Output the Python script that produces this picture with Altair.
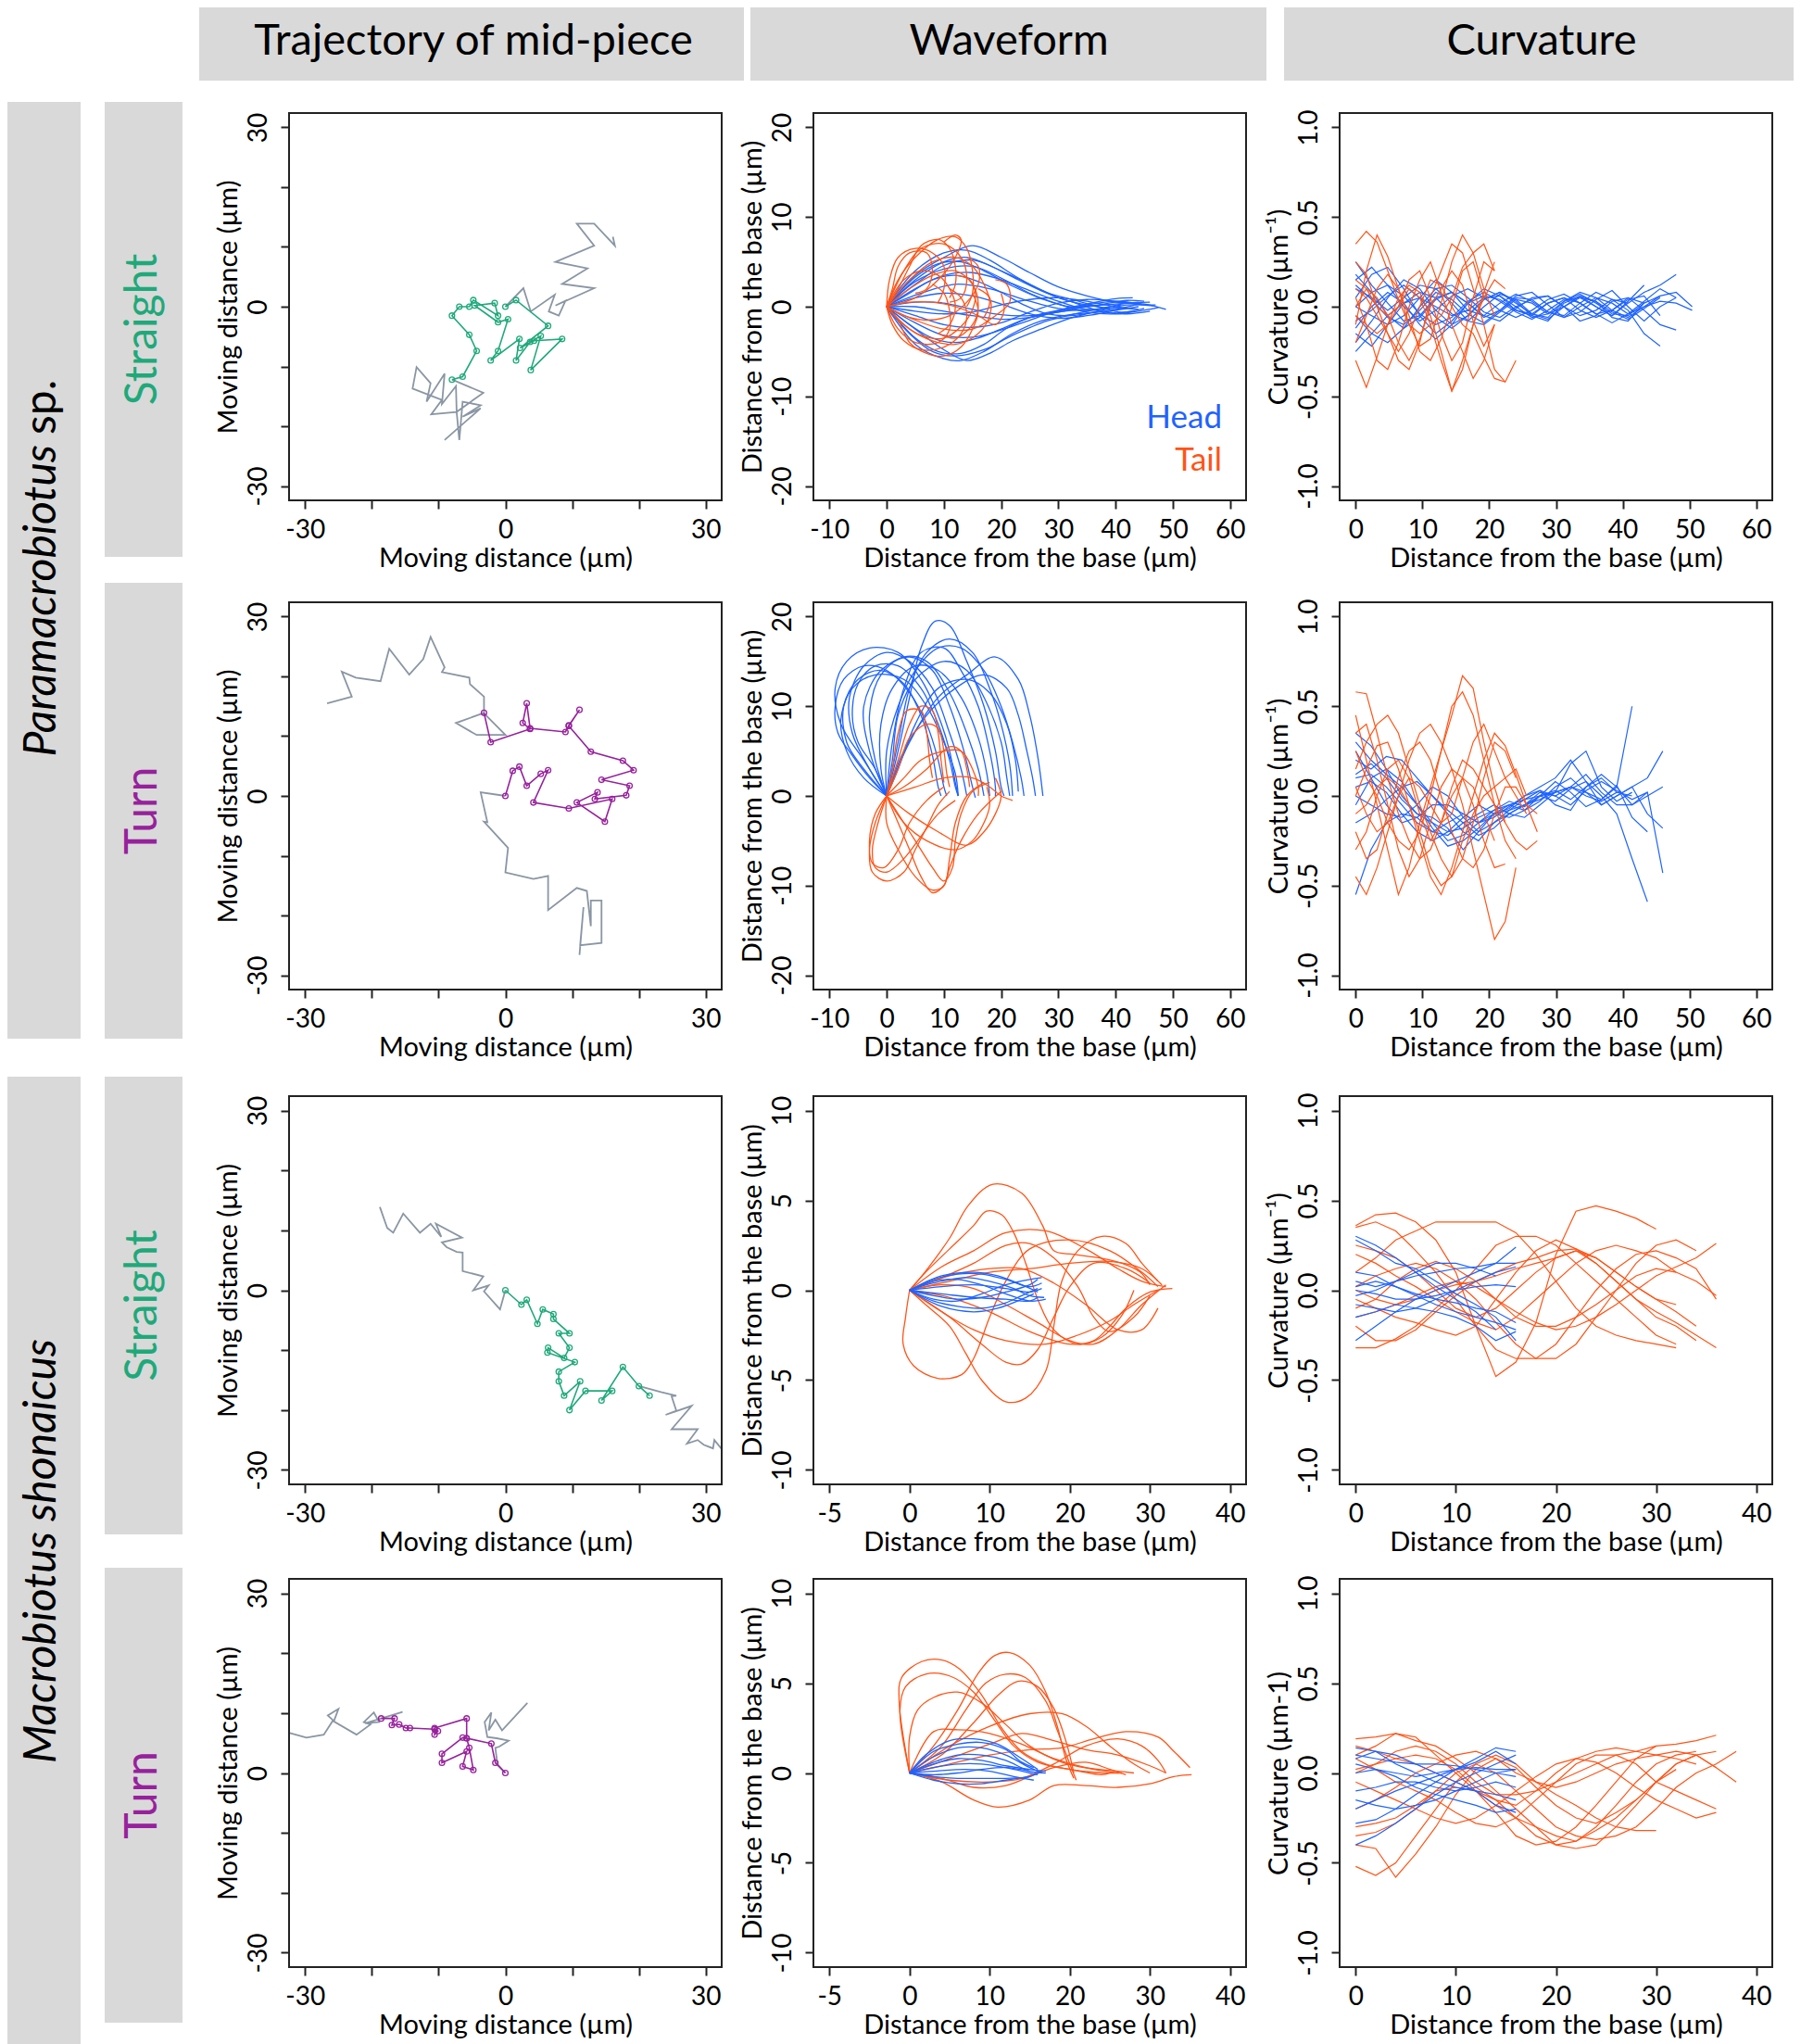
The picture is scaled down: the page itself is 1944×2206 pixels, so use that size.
import altair as alt
import pandas as pd

FONT = "Lato"
BLUE = "#1f63ff"
ORANGE = "#ff5417"
GREEN = "#1fa97a"
PURPLE = "#97219c"
GRAY = "#8a96a4"
STRIP = "#d9d9d9"
FRAME = "#222222"

W, H = 1928, 2198
COLS = [(304, 771), (870, 1337), (1438, 1905)]
ROWS = [(114, 532), (642, 1060), (1175, 1594), (1696, 2115)]

# ---------------- trajectories of the mid-piece (x, y in um) ----------------
TRAJ1_GRAY_BEFORE = [(-9.1,-22.3),(-3.7,-17.0),(-6.4,-18.4),(-3.7,-16.5),(-6.4,-15.9),(-6.9,-22.3),(-7.3,-17.6),(-7.4,-13.3),(-9.5,-16.3),(-9.1,-11.2),(-11.8,-15.9),(-11.2,-12.8),(-13.3,-10.1),(-13.9,-13.7),(-9.5,-15.6),(-11.1,-18.0),(-7.3,-17.6),(-3.3,-14.4),(-8.0,-12.2)]
TRAJ1_TRACK = [(-8.0,-12.2),(-6.4,-11.7),(-4.3,-7.4),(-5.4,-4.7),(-8.0,-1.5),(-6.9,0.0),(-5.4,0.0),(-4.8,1.1),(-1.1,-1.5),(-1.6,0.6),(-4.6,0.2),(-1.1,-2.6),(0.4,-2.1),(-1.1,-7.4),(-2.2,-9.0),(2.1,-5.4),(1.6,-9.0),(3.7,-5.9),(5.3,-4.9),(3.8,-10.6),(8.5,-5.4),(4.3,-5.7),(2.2,-6.9),(6.4,-3.2),(1.6,1.1),(0.0,0.0)]
TRAJ1_GRAY_AFTER = [(0.0,0.0),(2.7,3.1),(3.8,-0.8),(7.4,2.0),(6.5,-0.8),(8.0,-1.5),(9.0,1.0),(7.5,0.2),(13.3,3.1),(8.5,3.8),(12.3,6.4),(7.5,7.5),(13.3,10.2),(10.7,13.9),(13.3,13.9),(16.4,10.2),(16.1,11.7)]

TRAJ2_GRAY_BEFORE = [(-26.7,15.5),(-23.0,16.6),(-24.5,20.8),(-22.4,19.8),(-18.7,19.2),(-17.4,24.6),(-14.4,20.3),(-12.3,22.9),(-11.2,26.6),(-9.1,21.5),(-9.5,20.7),(-5.4,19.8),(-5.3,18.7),(-3.2,16.6),(-3.2,13.8),(0.0,10.2),(-4.3,10.2),(-7.4,12.2),(-3.2,13.9)]
TRAJ2_TRACK = [(-3.2,13.9),(-2.2,9.0),(3.7,11.2),(2.6,12.2),(3.2,15.5),(3.7,11.3),(9.0,10.7),(9.5,11.8),(11.1,14.4),(9.5,11.7),(12.8,7.4),(17.6,5.9),(19.2,4.3),(14.4,2.7),(18.6,1.7),(18.1,0.1),(13.4,-0.5),(13.8,0.6),(10.7,-1.1),(14.9,-4.3),(16.0,-0.5),(9.5,-2.1),(4.2,-1.1),(6.4,4.3),(5.3,3.7),(3.2,1.7),(2.1,4.9),(1.1,4.2),(0.0,0.0)]
TRAJ2_GRAY_AFTER = [(0.0,0.0),(-3.7,0.6),(-2.7,-4.4),(-3.2,-4.3),(0.4,-8.7),(0.0,-12.8),(4.2,-13.9),(6.4,-13.4),(6.4,-19.1),(10.7,-15.4),(12.2,-15.9),(12.8,-21.8),(12.8,-17.5),(14.4,-17.5),(14.4,-24.6),(11.2,-25.0),(11.7,-18.6),(11.1,-26.6)]

TRAJ3_GRAY_BEFORE = [(-18.8,13.9),(-17.7,10.4),(-16.8,9.6),(-15.3,12.8),(-12.8,9.6),(-11.2,11.1),(-9.6,8.9),(-10.4,11.1),(-6.5,8.8),(-9.5,8.0),(-8.8,7.2),(-7.3,6.4),(-6.4,6.3),(-6.4,3.2),(-3.3,2.3),(-4.8,0.0),(-2.5,0.8),(-3.2,-0.2),(-0.8,-3.2),(0.0,0.0)]
TRAJ3_TRACK = [(0.0,0.0),(2.4,-2.4),(3.2,-1.6),(4.8,-5.6),(5.6,-3.2),(7.2,-4.0),(7.2,-4.8),(9.6,-7.2),(8.0,-7.2),(9.6,-9.6),(8.8,-11.3),(6.4,-9.6),(6.3,-10.4),(10.4,-12.0),(8.0,-13.6),(8.0,-15.2),(8.8,-17.6),(11.2,-15.2),(9.6,-20.0),(12.0,-16.8),(16.0,-16.8),(14.4,-18.4),(17.6,-12.8),(20.0,-16.0),(21.6,-17.6)]
TRAJ3_GRAY_AFTER = [(20.0,-16.0),(23.3,-17.0),(25.6,-17.6),(24.9,-17.7),(25.6,-20.1),(24.0,-20.8),(27.9,-19.3),(24.9,-23.2),(28.8,-23.2),(27.2,-25.6),(28.8,-25.0),(29.7,-25.8),(31.1,-26.4),(31.3,-25.0),(32.4,-26.5)]

TRAJ4_GRAY_BEFORE = [(-32.4,6.7),(-29.8,5.9),(-27.2,6.4),(-25.8,8.8),(-26.6,9.6),(-25.0,10.7),(-25.7,8.6),(-22.3,6.4),(-20.2,8.1),(-21.2,8.5),(-19.7,10.1),(-18.9,8.5),(-21.0,8.3),(-15.4,10.2),(-18.6,9.1)]
TRAJ4_TRACK = [(-18.6,9.1),(-16.6,9.1),(-17.0,8.0),(-15.9,8.1),(-14.9,7.5),(-14.3,7.5),(-10.6,7.3),(-10.1,7.0),(-10.6,6.4),(-10.6,7.5),(-5.8,9.1),(-5.8,5.8),(-6.4,5.9),(-9.5,3.2),(-9.5,1.7),(-5.8,3.6),(-6.4,1.1),(-4.8,0.5),(-5.4,4.2),(-5.8,5.8),(-2.1,4.9),(-1.5,1.7),(0.0,0.0)]
TRAJ4_GRAY_AFTER = [(0.0,0.0),(-1.2,1.5),(-1.5,4.2),(-0.9,4.4),(0.5,5.4),(-1.3,5.8),(-2.7,6.0),(-3.1,8.5),(-2.1,10.1),(-2.5,7.1),(-1.5,8.9),(-0.5,7.1),(3.3,11.7)]

# ---------------- waveforms (x, y in um) ----------------
WAVE1_HEAD = [
    [(0,0),(5,3.5),(10,5.5),(15,6.8),(20,5.5),(25,3.8),(30,2.2),(35,1.2),(40,0.5),(45,0.3),(48.8,-0.3)],
    [(0,0),(5,2.5),(10,4.6),(15,5.2),(20,4.0),(25,2.5),(30,1.0),(35,0.2),(40,-0.2),(44,0.3)],
    [(0,0),(5,-2.5),(10,-4.8),(14,-6.0),(18,-5.2),(22,-3.8),(27,-2.5),(32,-1.3),(37,-0.5),(42,0.2),(46.6,0.1)],
    [(0,0),(4,-3.0),(8,-5.0),(12,-5.5),(17,-4.8),(22,-3.2),(28,-1.6),(33,-0.8),(38,-0.1),(41,0.2)],
    [(0,0),(5,1.0),(10,1.5),(15,1.2),(20,0.3),(25,-0.8),(30,-1.3),(35,-1.0),(40,-0.4),(44,0.0)],
    [(0,0),(5,-1.0),(10,-2.0),(15,-2.3),(20,-1.8),(25,-0.6),(30,0.4),(35,0.8),(40,0.6),(45,0.2),(47,0.2)],
    [(0,0),(5,3.0),(10,5.0),(14,5.5),(18,4.6),(23,3.0),(28,1.5),(33,0.4),(38,-0.6),(42,-0.8),(46,-0.5)],
    [(0,0),(4,-2.0),(8,-3.5),(12,-4.0),(16,-3.5),(20,-2.5),(25,-1.2),(30,-0.6),(35,-0.3),(40,-0.7),(43,-0.5)],
    [(0,0),(5,2.0),(10,3.5),(15,3.8),(20,3.0),(25,1.8),(30,0.6),(35,-0.3),(39,-0.2)],
    [(0,0),(5,-3.5),(9,-5.0),(13,-5.2),(17,-4.2),(21,-2.4),(26,-1.0),(31,-0.3),(36,0.1)],
    [(0,0),(6,1.5),(12,2.5),(18,2.0),(24,0.8),(30,-0.2),(36,-0.4),(41,0.3),(46,0.5)],
    [(0,0),(5,0.0),(10,-0.5),(15,-1.0),(20,-1.4),(25,-1.2),(30,-0.6),(35,0.0),(40,0.3),(44,0.5)],
    [(0,0),(5,4.0),(10,6.0),(14,6.3),(18,5.2),(23,3.2),(28,1.6),(33,0.7),(37,0.0),(41,-0.6),(45,-0.2)],
    [(0,0),(4,1.5),(8,3.0),(12,3.5),(16,2.8),(20,1.6),(24,0.2),(28,-0.8),(32,-1.0),(37,-0.5)],
    [(0,0),(5,2.8),(10,4.2),(15,4.5),(20,3.2),(25,1.5),(30,0.3),(35,-0.6),(40,-0.8),(45,-0.4),(47.5,-0.1)],
    [(0,0),(5,-1.8),(10,-3.2),(15,-3.4),(20,-2.6),(25,-1.5),(30,-0.4),(35,0.3),(40,0.9),(43,1.0)],
    [(0,0),(5,0.5),(10,0.4),(15,-0.3),(20,-0.9),(25,-1.0),(30,-0.5),(35,0.2),(40,0.6),(44.5,0.3)],
    [(0,0),(5,-4.2),(10,-5.8),(13,-6.0),(17,-5.0),(22,-3.0),(27,-1.6),(32,-0.9),(37,-0.6),(41,-0.2)],
    [(0,0),(5,3.3),(9,4.8),(13,5.0),(17,4.0),(22,2.3),(27,0.9),(32,0.0),(37,0.2),(42,0.7),(45,0.6)],
    [(0,0),(5,-0.5),(10,-0.8),(15,-0.6),(20,0.2),(25,0.8),(30,1.0),(35,0.6),(40,0.0),(44,-0.3)],
]
WAVE1_TAIL = [
    [(0,0),(0.5,3),(2,5.5),(5,6.5),(8,6),(10,4.5),(10,2),(9,0.5)],
    [(0,0),(2,3),(5,5.5),(9,7.5),(12,7.8),(14,6.5),(15,4),(15,1.5),(14,0)],
    [(0,0),(1,-2),(3,-3.8),(6,-4.8),(10,-4.5),(13,-3),(14,-1),(13,1),(11,2)],
    [(0,0),(4,2),(8,3.5),(12,4),(15,2.5),(16,0),(15,-2),(12,-3.5),(9,-3)],
    [(0,0),(3,-1),(7,-1.5),(11,-1),(14,0.5),(16,2.5),(16,4.5),(14,5.5)],
    [(0,0),(3,4),(6,6.5),(10,7),(13,5.5),(14,3),(13,1),(11,0.5)],
    [(0,0),(5,-1.5),(10,-2.5),(15,-2.5),(19,-1),(21.5,0.5),(21,2.5),(19,3)],
    [(0,0),(2,-2.5),(5,-4),(9,-4),(11,-2.5),(11,-0.5),(10,1.5),(8,2.5)],
    [(0,0),(4,3),(8,5),(12,5.5),(15,4.5),(17,2.5),(18,0.5),(17,-1.2)],
    [(0,0),(1,2),(2,4.5),(4,6),(7,6),(8,4),(7,2),(5,1.5)],
    [(0,0),(4,-2.5),(8,-3.8),(12,-4.2),(16,-3),(18,-1),(18,1),(16,2)],
    [(0,0),(5,1),(9,3),(12,5.5),(13,7.5),(12,8),(10,7.2)],
    [(0,0),(2,2),(4,4.5),(6,6.8),(9,7.5),(11,6.5),(12,4.5),(12,2.5),(11,1)],
    [(0,0),(3,-2),(6,-3.2),(10,-3.5),(13,-2.2),(15,-0.3),(15.5,1.5),(14.5,3),(12,3.5)],
    [(0,0),(4,0.5),(8,0.5),(12,0),(16,-1),(19,-2),(20.5,-0.5),(20,1.5)],
    [(0,0),(3,3),(6,4),(9,3.5),(11,2),(12,0),(11,-2),(9,-3)],
    [(0,0),(2,-1.5),(4,-4),(7,-5.2),(10,-5.5),(13,-4.5),(15,-2.5),(16,-0.5),(15,1.5)],
]
WAVE2_HEAD = [
    [(0,0),(-4,4),(-8,8),(-9,12),(-7,15),(-3,16.5),(2,16),(6,13),(9,9),(11,5),(12,1.5),(12.5,0)],
    [(0,0),(-3,3),(-6,7),(-6.5,11),(-4,14.5),(0,16),(4,15),(8,12),(11,7),(13,3),(14,0)],
    [(0,0),(-2,4),(-3,9),(-1,13.5),(3,15.5),(7,15),(11,11.5),(14,7),(16,3),(17,0)],
    [(0,0),(2,5),(4,11),(6,16.5),(8.5,19.5),(11,19),(14,15),(17,10),(19,5),(20,1),(20.5,0)],
    [(0,0),(1,6),(3,12),(6,16),(10,16.5),(13,14),(16,10),(18,5),(19,1),(19,0)],
    [(0,0),(3,5),(7,9),(12,12),(17,13.5),(21,12),(23,9),(24.5,5),(25.5,2),(26,0)],
    [(0,0),(4,6),(9,11),(14,13.5),(19,15.5),(23,13),(25,9),(26.5,4),(27.3,0)],
    [(0,0),(-4,2),(-7,5),(-8,8.5),(-6,12),(-2,13.5),(3,13),(7,10),(10,6),(12,2.5),(12.5,0)],
    [(0,0),(-1,3),(-1,8),(1,12),(5,14.5),(9,14),(13,11),(16,6.5),(17.5,2.5),(18,0)],
    [(0,0),(2,3),(5,8),(9,12),(14,13),(18,11.5),(21,8),(22.5,4),(23,0.5)],
    [(0,0),(-3,5),(-4,10),(-1,14),(4,15.5),(8,14),(11,10),(13.5,5),(15,1),(15.5,-0.2)],
    [(0,0),(1,4),(2,9),(5,13),(10,15),(14,14),(17,11),(20,6),(21,2),(21.5,0)],
    [(0,0),(-4,3),(-7,6),(-7.5,10),(-5,13),(-1,14),(3,12.5),(6,9),(8,4.5),(9,1),(9.5,0)],
    [(0,0),(-3,2),(-6,4.5),(-8.5,7),(-9,10),(-7.5,13),(-4,14.5),(0,14),(4,11.5),(7,8),(9,4),(10,1),(10.5,0)],
    [(0,0),(0,5),(2,10),(5,14),(9,16.5),(13,16.5),(17,14),(20,10),(22,6),(23.5,2),(24,0)],
    [(0,0),(2,6),(4,12),(7,16),(11,17.5),(15,16),(18,12),(20,8),(21.5,3.5),(22,0)],
    [(0,0),(-2,3),(-5,6),(-6,9),(-5,12.5),(-2,14.5),(2,14.5),(6,12),(9,8),(11,4),(12,1),(12.5,0)],
]
WAVE2_TAIL = [
    [(0,0),(-1.5,-3),(-2.5,-6),(-2,-8),(0,-8.5),(3,-7),(6,-4.5),(9,-2),(12,-0.5)],
    [(0,0),(0,-3),(2,-6),(5,-9),(8,-10.5),(10,-10),(11,-7),(12,-3),(14,0),(17,1.5)],
    [(0,0),(2,-2),(5,-5),(8,-8),(10,-9.5),(11.5,-8),(12,-5),(13,-2),(15,0.5),(18,1.5)],
    [(0,0),(3,-3),(7,-5),(12,-6),(15,-5),(17,-3),(18,-1),(17.5,1)],
    [(0,0),(-2,-2),(-3,-5),(-2.5,-7.5),(-0.5,-8),(2,-6),(4,-3),(7,-0.5),(10,1)],
    [(0,0),(1,3),(2,7),(3.5,9.5),(6,9.5),(7,7),(7.5,4),(8,2)],
    [(0,0),(3,2),(6,4),(10,5),(13,5),(15,3),(16,1),(16,0)],
    [(0,0),(3,1),(7,3),(11,5.5),(13,5),(14,3),(14.5,1)],
    [(0,0),(2,3),(4,6.5),(7,8),(9,7.5),(10,5),(10.5,2.5),(11,1)],
    [(0,0),(5,1),(10,2),(15,2),(18,1),(20,0),(22,-0.5)],
    [(0,0),(2,-3),(4,-6),(6,-9),(8,-10.8),(10,-10),(11,-8),(13,-5),(16,-2),(20,0.5)],
    [(0,0),(4,-2),(9,-4),(14,-5.5),(17,-4),(19,-2),(20,0),(19,2)],
    [(0,0),(-2,-3),(-3,-6),(-2.5,-8.5),(0,-9.5),(3,-8.5),(5,-6),(7,-3.5),(9,-1),(11,0.5)],
    [(0,0),(2,4),(4,8),(6,10),(8,9.5),(9,7),(9.5,4),(10,1.5)],
]
WAVE3_HEAD = [
    [(0,0),(3,0.6),(6,0.9),(9,0.9),(12,0.6),(15,0.2),(16.5,0.4)],
    [(0,0),(3,-0.6),(6,-0.9),(9,-1.0),(12,-0.7),(14,-0.3),(16,0.1)],
    [(0,0),(3,0.4),(7,0.7),(10,0.5),(13,0.1),(15,-0.3),(16.8,-0.4)],
    [(0,0),(3,-0.3),(6,-0.5),(9,-0.4),(12,-0.1),(15,0.3),(16,0.6)],
    [(0,0),(4,0.8),(8,1.0),(11,0.8),(14,0.3),(16,-0.1)],
    [(0,0),(4,-0.9),(8,-1.2),(11,-1.0),(14,-0.5),(15.5,-0.2)],
    [(0,0),(4,0.2),(8,0.3),(12,0.1),(15,-0.1),(16.5,0.1)],
    [(0,0),(4,-0.2),(8,-0.4),(12,-0.5),(15,-0.6),(16,-0.4)],
    [(0,0),(3,0.5),(6,0.6),(9,0.3),(12,-0.2),(15,-0.6),(17,-0.5)],
    [(0,0),(3,-0.5),(6,-0.6),(9,-0.2),(12,0.3),(15,0.6),(16.5,0.7)],
]
WAVE3_TAIL = [
    [(0,0),(1.9,1.0),(5.0,2.9),(7.3,4.7),(10.4,5.9),(14.0,5.4),(16.6,3.6),(18.0,2.2),(20.4,2.0),(23.7,1.8),(26.5,1.5),(28.8,1.0),(30.0,0.3)],
    [(0,0),(2,1),(5,2.3),(8,3.6),(9.6,4.4),(11.5,4.2),(13,3.2),(14.5,1.5),(16,-0.5),(18,-2.2),(21,-3.0),(24,-2.6),(26.5,-1.4),(28,0.0)],
    [(0,0),(-0.5,-1.5),(-0.8,-3.0),(0.5,-4.2),(3.5,-4.9),(6.5,-4.7),(8,-3.8),(10,-1.5),(12,0.5),(15,2.3),(20,2.8),(25,2.2),(29,1.0),(31,0.2)],
    [(0,0),(2,-0.8),(5,-2),(7,-3.5),(9,-5),(12,-6.2),(14.5,-6),(17,-4.5),(18,-2),(19,0.5),(21,2.2),(24,3),(27,2.6),(29,1.5),(31,0.5)],
    [(0,0),(4,1.3),(8,2.2),(12,3.2),(17,3.3),(22,2.3),(26,1.2),(29,0.5),(32,0.2)],
    [(0,0),(4,-1.2),(8,-2.2),(12,-2.8),(17,-3.0),(21,-2.5),(25,-1.7),(28,-0.8),(31,0)],
    [(0,0),(5,0.5),(10,1.0),(15,1.2),(20,1.5),(25,1.6),(29,1.2),(31.5,0.3)],
    [(0,0),(5,-0.4),(10,-1.2),(15,-2.3),(20,-3.0),(23,-2.8),(25,-2.0),(27,-1.0),(30,-0.1),(32.8,0.1)],
    [(0,0),(5,-1.5),(9,-3.0),(12,-4.0),(14,-4.1),(16,-3.3),(18,-1.5),(20,0.2),(23,1.5),(27,1.2),(30,0.4)],
    [(0,0),(4,0.7),(8,1.5),(12,2.5),(15,2.6),(18,1.8),(21,0.2),(23,-1.5),(25,-2.3),(28,-1.5),(30,-0.3)],
    [(0,0),(5,0.8),(10,1.2),(14,1.2),(18,0.4),(22,-0.8),(26,-2.2),(29,-2.2),(31,-1)],
    [(0,0),(4,0.3),(8,0.1),(12,-0.8),(16,-1.8),(20,-2.8),(23,-3.0),(26,-2.2),(29,-0.8),(32,0.3)],
]
WAVE4_HEAD = [
    [(0,0),(2,1.0),(5,1.8),(8,1.9),(11,1.6),(14,0.8),(16,0.2)],
    [(0,0),(3,0.9),(6,1.4),(9,1.4),(12,1.0),(15,0.3),(16.5,0.0)],
    [(0,0),(3,0.6),(6,1.0),(9,1.0),(12,0.7),(15,0.1),(17,0.0)],
    [(0,0),(3,0.3),(6,0.5),(9,0.5),(12,0.3),(15,0.0),(16,-0.1)],
    [(0,0),(3,-0.2),(6,-0.3),(9,-0.3),(12,-0.3),(15,-0.2),(16.5,0.1)],
    [(0,0),(3,-0.4),(6,-0.6),(9,-0.6),(12,-0.4),(15,-0.2)],
    [(0,0),(3,1.2),(6,1.6),(9,1.7),(12,1.3),(14,0.6),(15.5,0.3)],
    [(0,0),(3,0.1),(7,0.2),(10,0.1),(13,-0.2),(15.5,-0.4)],
    [(0,0),(3,0.5),(6,0.8),(9,0.7),(12,0.4),(15,0.2),(17,0.1)],
    [(0,0),(3,-0.1),(6,0.0),(9,0.2),(12,0.3),(15,0.1)],
]
WAVE4_TAIL = [
    [(0,0),(-1.3,4.0),(-1.0,5.3),(1.5,6.2),(3.9,6.3),(6.2,5.8),(8.9,4.4),(11.5,2.5),(14,1.2),(17,0.5),(20,0.2),(24,-0.1),(25,0)],
    [(0,0),(-1.2,3.5),(-0.5,4.8),(2,5.5),(5,5.4),(8,4.5),(10.5,3.0),(13,1.5),(16,0.6),(20,0.2),(24,0.0),(26.5,0.0)],
    [(0,0),(0,2),(1,3.5),(3,4.2),(6,4.5),(9,3.9),(12,2.7),(15,1.5),(19,0.6),(23,0.2),(26,0.0)],
    [(0,0),(3,1.5),(6,3.5),(8.5,5.5),(10.5,6.5),(12.5,6.7),(15,6.0),(17,4.5),(18.5,2.5),(19.5,0.8),(20.5,-0.3)],
    [(0,0),(4,1.5),(7,3.5),(9.5,5.0),(12,5.5),(14.5,5.3),(17,4),(18.5,2.3),(20,0.5),(20.8,-0.4)],
    [(0,0),(4,1.0),(8,2.8),(11,4.3),(13.5,5.1),(16,4.8),(18,3.6),(19.5,1.8),(20.5,0.0)],
    [(0,0),(3,2.3),(6,2.4),(10,2.2),(14,1.6),(18,0.8),(22,0.3),(26,0.1),(28,0)],
    [(0,0),(5,1.5),(10,2.6),(15,3.3),(19,3.3),(22,2.6),(25,1.5),(28,0.5),(30,0)],
    [(0,0),(5,0.5),(10,1.0),(15,1.3),(19,1.4),(23,1.9),(27,2.3),(31,2.0),(33,1.2),(35,0.3)],
    [(0,0),(4,-0.5),(8,-1.5),(11,-1.9),(15,-1.5),(18,-0.7),(22,-0.7),(26,-0.8),(30,-0.6),(33,-0.2),(35.2,-0.1)],
    [(0,0),(5,-0.4),(10,-0.5),(14,-0.3),(18,0.5),(22,1.5),(26,1.9),(29,1.5),(31,0.7),(32,0)],
    [(0,0),(5,0.8),(10,1.6),(14,2.2),(18,1.8),(22,1.3),(26,1.0),(30,0.4),(32,0)],
    [(0,0),(4,-0.3),(8,-0.8),(12,-0.7),(15,-0.2),(18,0.3),(22,0.6),(25,0.2),(27,-0.1)],
]

# ---------------- curvature (sample positions along the flagellum, um; curvature, 1/um) ----------------
CURV1_TAIL_X = [0, 1.6, 3.2, 4.8, 6.4, 8, 9.6, 11.2, 12.8, 14.4, 16, 17.6, 19.2, 20.8, 22.4, 24]
CURV1_TAIL = [
    [0.35,0.42,0.36,0.20,0.04,-0.10,-0.22,-0.18,0.02,0.25,0.40,0.30,0.10,-0.05],
    [-0.30,-0.45,-0.28,-0.10,0.05,0.12,0.08,-0.05,-0.25,-0.47,-0.30,-0.10,0.08,0.25],
    [0.25,0.18,0.0,-0.15,-0.30,-0.35,-0.20,0.05,0.20,0.35,0.30,0.10,-0.10,-0.35,-0.42,-0.30],
    [-0.10,0.20,0.40,0.28,0.10,-0.10,-0.15,-0.10,-0.05,0.05,0.22,0.30,0.35,0.20],
    [0.05,-0.10,-0.30,-0.35,-0.20,0.0,0.15,0.25,0.08,-0.10,-0.25,-0.40,-0.30,-0.10],
    [0.0,0.10,0.05,-0.05,0.0,0.15,0.20,0.05,-0.15,-0.30,-0.20,0.05,0.25,0.20],
    [-0.05,-0.10,-0.15,-0.10,0.0,0.10,0.05,-0.10,-0.30,-0.47,-0.35,-0.10,0.05,0.15,0.10],
    [0.10,0.05,-0.05,-0.15,-0.25,-0.15,0.0,0.15,0.12,0.0,-0.10,-0.15,-0.28,-0.40,-0.42],
    [-0.20,-0.05,0.10,0.18,0.10,-0.05,-0.25,-0.30,-0.18,0.0,0.20,0.25,0.05],
    [0.15,0.10,0.0,-0.05,-0.20,-0.30,-0.18,0.0,0.10,0.20,0.12,-0.08,-0.22,-0.10],
]
CURV1_HEAD_X = [0, 2.4, 4.8, 7.2, 9.6, 12, 14.4, 16.8, 19.2, 21.6, 24, 26.4, 28.8, 31.2, 33.6, 36, 38.4, 40.8, 43.2, 45.6, 48, 50.4]
CURV1_HEAD = [
    [0.25,0.12,0.02,-0.08,-0.05,0.05,0.08,0.02,-0.06,-0.02,0.05,0.04,-0.03,-0.06,0.0,0.05,0.02,-0.04,0.0,0.03,0.02,-0.02],
    [-0.20,-0.08,0.05,0.15,0.10,-0.02,-0.10,-0.05,0.04,0.08,0.03,-0.05,-0.08,0.02,0.06,0.0,-0.05,0.02,0.08,0.12,0.18],
    [0.05,0.18,0.22,0.10,-0.05,-0.15,-0.08,0.02,0.06,0.04,-0.02,-0.04,0.02,0.05,-0.02,-0.06,-0.02,0.04,0.06,-0.05],
    [-0.05,-0.15,-0.20,-0.12,0.0,0.10,0.12,0.05,-0.03,-0.06,0.0,0.04,0.06,0.0,-0.08,-0.05,0.03,0.05,-0.02,-0.10,-0.13],
    [0.10,0.05,-0.02,0.05,0.12,0.10,0.02,-0.08,-0.10,-0.03,0.04,0.02,-0.04,0.0,0.06,0.03,-0.03,-0.07,-0.01,0.05],
    [-0.12,0.0,0.08,0.02,-0.10,-0.18,-0.10,0.02,0.10,0.06,-0.02,-0.05,0.02,0.05,0.02,-0.04,-0.09,-0.04,0.03,0.10,0.05],
    [0.0,-0.05,-0.10,-0.05,0.05,0.15,0.08,-0.02,-0.05,0.02,0.07,0.03,-0.03,-0.05,0.02,0.08,0.04,-0.02,-0.15,-0.22],
    [0.15,0.22,0.12,0.0,-0.08,-0.02,0.06,0.10,0.05,-0.02,-0.06,-0.02,0.04,0.07,0.02,-0.04,-0.02,0.05,0.02],
    [-0.25,-0.15,-0.05,0.02,0.05,0.0,-0.05,-0.02,0.05,0.06,0.0,-0.06,-0.04,0.03,0.08,0.05,-0.02,-0.06,0.0,0.06,0.08,0.0],
    [0.0,0.08,0.12,0.06,-0.04,-0.10,-0.06,0.03,0.08,0.03,-0.03,-0.07,-0.02,0.04,0.05,0.0,-0.05,0.03,0.12],
    [0.18,0.08,-0.05,-0.12,-0.06,0.04,0.08,0.02,-0.05,-0.08,-0.01,0.05,0.06,0.0,-0.05,-0.02,0.04,0.02],
    [-0.08,-0.02,0.06,0.12,0.05,-0.06,-0.12,-0.05,0.04,0.08,0.02,-0.04,-0.06,0.03,0.07,0.02,-0.04,-0.05,0.02,0.06],
    [0.12,0.04,-0.06,-0.10,-0.02,0.08,0.04,-0.04,-0.09,-0.02,0.06,0.08,0.01,-0.06,-0.03,0.04,0.09,0.0,-0.08,0.0,0.05],
    [-0.15,-0.22,-0.10,0.02,0.08,0.05,-0.04,-0.08,0.0,0.07,0.04,-0.04,-0.07,0.0,0.05,0.03,-0.06,-0.08,0.02],
]
CURV2_TAIL_X = [0, 1.6, 3.2, 4.8, 6.4, 8, 9.6, 11.2, 12.8, 14.4, 16, 17.6, 19.2, 20.8, 22.4, 24, 25.6, 27.2]
CURV2_TAIL = [
    [0.58,0.57,0.35,0.10,-0.10,-0.25,-0.35,-0.30,-0.15,0.0,0.10,0.05,-0.10,-0.25],
    [0.45,0.20,-0.05,-0.30,-0.55,-0.40,-0.15,0.05,0.25,0.45,0.67,0.60,0.30,0.05,-0.15],
    [-0.45,-0.55,-0.40,-0.20,0.0,0.20,0.35,0.40,0.30,0.15,-0.05,-0.30,-0.55,-0.80,-0.70,-0.40],
    [0.15,0.30,0.40,0.45,0.35,0.15,-0.05,-0.20,-0.35,-0.45,-0.35,-0.15,0.10,0.30,0.25,0.10],
    [-0.20,-0.35,-0.30,-0.10,0.10,0.25,0.30,0.20,0.0,-0.20,-0.35,-0.40,-0.30,-0.10,0.05,0.05,-0.05,-0.20],
    [0.05,-0.10,-0.20,-0.15,0.0,0.10,0.05,-0.05,-0.15,-0.10,0.10,0.30,0.40,0.25,0.10,0.0,-0.10],
    [0.25,0.10,0.0,-0.15,-0.25,-0.30,-0.20,0.0,0.25,0.50,0.58,0.45,0.20,-0.05,-0.25,-0.35],
    [-0.10,-0.05,0.05,0.10,0.05,-0.05,-0.20,-0.40,-0.50,-0.45,-0.25,-0.10,0.0,0.05,0.10,0.15,0.0],
    [0.35,0.40,0.20,-0.05,-0.30,-0.45,-0.35,-0.15,0.05,0.15,0.10,-0.05,-0.25,-0.40,-0.38],
    [0.0,0.15,0.28,0.30,0.15,-0.05,-0.25,-0.45,-0.55,-0.40,-0.20,0.0,0.20,0.35,0.28,0.12,-0.05,-0.10],
    [-0.30,-0.20,0.0,0.15,0.20,0.10,-0.10,-0.25,-0.15,0.05,0.20,0.15,0.05,-0.05,-0.15,-0.25,-0.30,-0.25],
]
CURV2_HEAD_X = [0, 2.3, 4.6, 6.9, 9.2, 11.5, 13.8, 16.1, 18.4, 20.7, 23, 25.3, 27.6, 29.9, 32.2, 34.5, 36.8, 39.1, 41.4, 43.7, 46]
CURV2_HEAD = [
    [0.35,0.28,0.15,0.0,-0.10,-0.15,-0.20,-0.18,-0.12,-0.08,-0.05,-0.02,0.0,0.02,0.05,0.02,-0.02,0.05,0.50],
    [0.30,0.20,0.12,0.05,-0.05,-0.15,-0.25,-0.22,-0.15,-0.10,-0.08,-0.05,0.0,-0.03,0.04,0.08,0.0,-0.10,-0.35,-0.59],
    [-0.05,0.10,0.15,0.08,-0.05,-0.18,-0.28,-0.25,-0.18,-0.10,-0.05,-0.08,-0.03,0.05,0.10,0.02,-0.05,0.0,0.05,0.10,0.25],
    [0.10,0.12,0.05,-0.05,-0.15,-0.20,-0.15,-0.10,-0.15,-0.12,-0.06,0.0,0.03,-0.05,-0.08,0.05,0.12,0.05,-0.05,0.02,-0.43],
    [-0.55,-0.30,-0.15,-0.10,-0.12,-0.20,-0.22,-0.15,-0.10,-0.05,-0.10,-0.12,-0.05,0.02,0.05,0.0,-0.03,0.02,0.0],
    [0.20,0.15,0.22,0.20,0.10,0.0,-0.10,-0.20,-0.25,-0.15,-0.08,-0.02,0.03,0.0,-0.05,0.03,0.08,0.03,-0.02,0.02],
    [0.05,0.08,0.02,-0.10,-0.20,-0.25,-0.20,-0.12,-0.05,-0.10,-0.07,0.0,0.05,0.10,0.20,0.08,-0.05,0.0,0.05,-0.10,-0.18],
    [-0.15,-0.10,-0.02,0.05,0.08,0.0,-0.08,-0.15,-0.22,-0.18,-0.10,-0.05,0.02,0.0,0.05,0.12,0.02,-0.05,-0.05,0.0,0.05],
    [0.25,0.10,-0.05,-0.15,-0.12,-0.05,-0.05,-0.10,-0.15,-0.08,-0.03,-0.06,0.0,0.08,0.02,-0.06,-0.02,0.06,-0.12,-0.20],
    [0.0,-0.05,-0.10,-0.12,-0.05,0.05,0.0,-0.12,-0.20,-0.15,-0.10,-0.05,-0.02,0.02,0.18,0.25,0.05,-0.03,0.02],
    [0.12,0.18,0.10,-0.02,-0.10,-0.12,-0.18,-0.30,-0.20,-0.10,-0.12,-0.08,0.0,0.03,-0.02,0.05,0.10,0.02],
]
CURV34_X = [0, 2, 4, 6, 8, 10, 12, 14, 16, 18, 20, 22, 24, 26, 28, 30, 32, 34, 36, 38]
CURV3_TAIL = [
    [0.36,0.42,0.43,0.38,0.28,0.10,-0.20,-0.48,-0.40,-0.18,0.20,0.44,0.47,0.44,0.40,0.34],
    [-0.32,-0.32,-0.27,-0.20,-0.10,0.0,0.12,0.25,0.30,0.30,0.25,0.15,0.05,-0.05,-0.15,-0.25,-0.30],
    [0.35,0.38,0.33,0.22,0.10,-0.05,-0.20,-0.33,-0.38,-0.38,-0.30,-0.15,0.0,0.12,0.20,0.22,0.18,0.12,-0.05],
    [0.10,0.18,0.28,0.33,0.38,0.38,0.38,0.38,0.32,0.20,0.05,-0.10,-0.20,-0.25,-0.28,-0.30,-0.32],
    [-0.05,-0.10,-0.15,-0.18,-0.22,-0.25,-0.20,-0.05,0.10,0.22,0.28,0.23,0.15,0.05,-0.05,-0.15,-0.20,-0.28],
    [0.20,0.15,0.08,0.02,-0.05,-0.12,-0.18,-0.22,-0.15,-0.05,0.05,0.15,0.22,0.25,0.22,0.18,0.10,0.05,-0.03],
    [-0.20,-0.28,-0.28,-0.22,-0.12,-0.03,0.05,0.10,0.15,0.18,0.22,0.23,0.18,0.10,0.02,-0.05,-0.08],
    [0.02,0.08,0.12,0.15,0.12,0.05,-0.05,-0.18,-0.30,-0.38,-0.38,-0.30,-0.15,0.0,0.15,0.25,0.28,0.22],
    [0.0,-0.05,-0.08,-0.05,0.0,0.03,0.05,0.08,0.12,0.15,0.18,0.22,0.18,0.10,0.02,-0.05,-0.12,-0.20],
    [-0.15,-0.12,-0.08,-0.03,0.02,0.05,0.02,-0.05,-0.12,-0.18,-0.22,-0.20,-0.15,-0.08,0.0,0.08,0.13,0.18,0.26],
    [0.25,0.22,0.18,0.10,0.0,-0.10,-0.15,-0.10,0.0,0.10,0.18,0.22,0.15,0.05,-0.05,-0.12,-0.18,-0.25,-0.32],
    [-0.10,-0.05,0.05,0.12,0.16,0.12,0.05,-0.05,-0.15,-0.20,-0.20,-0.15,-0.08,0.0,0.08,0.12,0.10],
]
CURV3_HEAD = [
    [0.30,0.25,0.18,0.10,0.02,-0.05,-0.12,-0.22],
    [0.28,0.22,0.15,0.12,0.05,-0.02,-0.08,-0.15,-0.28],
    [-0.28,-0.20,-0.12,-0.05,0.0,0.05,0.10,0.15,0.24],
    [0.05,0.02,0.05,0.08,0.10,0.12,0.13,0.15,0.15],
    [0.0,-0.02,-0.05,-0.05,-0.03,0.0,0.02,0.03,0.02],
    [-0.08,-0.10,-0.12,-0.10,-0.05,0.0,0.05,0.10,0.13],
    [0.10,0.08,0.02,-0.03,-0.08,-0.12,-0.15,-0.18,-0.22],
    [-0.15,-0.12,-0.08,-0.10,-0.12,-0.15,-0.20,-0.28,-0.23],
    [0.02,0.05,0.02,-0.02,-0.05,-0.07,-0.10,-0.12,-0.18],
    [-0.03,0.0,0.05,0.10,0.15,0.15,0.12,0.08],
]
CURV4_TAIL = [
    [0.19,0.20,0.22,0.18,0.15,0.08,0.0,-0.10,-0.20,-0.30,-0.40,-0.42,-0.40,-0.30,-0.18,-0.05,0.05,0.10,0.12],
    [-0.52,-0.57,-0.50,-0.35,-0.20,-0.05,0.05,0.10,0.05,-0.05,-0.12,-0.18,-0.25,-0.30,-0.32,-0.32],
    [-0.40,-0.42,-0.58,-0.45,-0.30,-0.12,0.02,0.08,0.03,-0.08,-0.18,-0.25,-0.28,-0.22,-0.15,-0.05,0.02],
    [0.10,0.15,0.22,0.20,0.10,0.0,-0.10,-0.22,-0.35,-0.40,-0.38,-0.30,-0.18,-0.05,0.08,0.15,0.16,0.18,0.21],
    [-0.35,-0.33,-0.28,-0.20,-0.10,0.0,0.05,0.0,-0.10,-0.20,-0.30,-0.35,-0.37,-0.35,-0.30,-0.20,-0.08,0.0,0.05,0.12],
    [0.02,0.05,0.08,0.10,0.08,0.02,-0.08,-0.15,-0.25,-0.35,-0.40,-0.38,-0.32,-0.25,-0.15,-0.05,0.05,0.10,0.03],
    [-0.05,-0.10,-0.15,-0.20,-0.25,-0.28,-0.25,-0.18,-0.10,-0.02,0.05,0.08,0.06,0.0,-0.08,-0.15,-0.20,-0.25,-0.22],
    [0.15,0.12,0.08,0.05,0.0,-0.05,-0.10,-0.18,-0.25,-0.30,-0.35,-0.38,-0.30,-0.18,-0.05,0.05,0.10,0.12],
    [-0.20,-0.15,-0.08,0.0,0.05,0.10,0.12,0.08,0.0,-0.05,-0.08,-0.05,0.0,0.05,0.08,0.10,0.12,0.10,0.03,-0.05],
    [0.08,0.02,-0.05,-0.10,-0.15,-0.22,-0.28,-0.30,-0.25,-0.15,-0.05,0.05,0.10,0.10,0.05,-0.05,-0.10,-0.15,-0.20],
    [-0.30,-0.28,-0.25,-0.18,-0.10,-0.08,-0.10,-0.15,-0.18,-0.10,0.0,0.08,0.12,0.14,0.12,0.10,0.08,0.05],
    [0.0,0.05,0.12,0.15,0.12,0.05,-0.05,-0.12,-0.12,-0.10,-0.05,0.0,0.05,0.10,0.12,0.15],
]
CURV4_HEAD = [
    [0.14,0.12,0.05,0.0,-0.05,-0.08,-0.10,-0.12,-0.15],
    [0.08,0.12,0.10,0.05,0.0,-0.05,-0.10,-0.18,-0.22],
    [-0.40,-0.35,-0.28,-0.20,-0.12,-0.05,0.0,0.05,0.10],
    [-0.28,-0.26,-0.20,-0.12,-0.05,0.02,0.08,0.14,0.12],
    [0.0,0.02,0.0,-0.02,0.0,0.02,0.03,0.02,0.02],
    [-0.15,-0.18,-0.20,-0.18,-0.15,-0.10,-0.05,0.0,-0.02],
    [0.05,0.02,-0.02,-0.08,-0.12,-0.15,-0.18,-0.22,-0.20],
    [-0.10,-0.08,-0.05,-0.05,-0.08,-0.10,-0.08,-0.05,-0.08],
    [0.10,0.08,0.06,0.05,0.05,0.04,0.02,0.0,0.02],
    [-0.20,-0.15,-0.10,-0.06,-0.02,0.02,0.06,0.12,0.05],
]

# axis domains and ticks
TRAJ_DOM = [-32.4, 32.4]
TRAJ_TICKS = [-30, -20, -10, 0, 10, 20, 30]
WAVE12_XDOM, WAVE12_YDOM = [-12.8, 62.8], [-21.6, 21.6]
WAVE12_XT, WAVE12_YT = [-10, 0, 10, 20, 30, 40, 50, 60], [-20, -10, 0, 10, 20]
WAVE34_XDOM, WAVE34_YDOM = [-12.0, 42.0], [-10.8, 10.8]
WAVE34_XT, WAVE34_YT = [-10, 0, 10, 20, 30, 40], [-10, -5, 0, 5, 10]
CURV12_XDOM, CURV34_XDOM, CURV_YDOM = [-2.4, 62.4], [-1.6, 41.6], [-1.08, 1.08]
CURV12_XT, CURV34_XT = [0, 10, 20, 30, 40, 50, 60], [0, 10, 20, 30, 40]
CURV_YT = [-1.0, -0.5, 0.0, 0.5, 1.0]

MINUS = "replace(datum.label, '\u2212', '-')"
TRAJ_EXPR = "datum.value % 30 == 0 ? " + MINUS + " : ''"
W34X_EXPR = "datum.value == -10 ? '-5' : " + MINUS

DUMMY = pd.DataFrame({"k": [0]})

AXIS_STYLE = dict(domain=False, grid=False, ticks=True, tickSize=9, tickWidth=2, tickColor=FRAME,
                  labelFont=FONT, labelFontSize=28, labelColor="black", labelOverlap=False,
                  labelFlush=False, titleFont=FONT, titleFontSize=29, titleFontWeight="normal",
                  titleColor="black")


def path_df(pts):
    return pd.DataFrame({"id": 0, "i": list(range(len(pts))),
                         "x": [p[0] for p in pts], "y": [p[1] for p in pts]})


def curves_df(curves):
    rows = []
    for k, pts in enumerate(curves):
        for i, (x, y) in enumerate(pts):
            rows.append((k, i, x, y))
    return pd.DataFrame(rows, columns=["id", "i", "x", "y"])


def sampled_df(xs, curves):
    rows = []
    for k, ys in enumerate(curves):
        for i, y in enumerate(ys):
            rows.append((k, i, xs[i], y))
    return pd.DataFrame(rows, columns=["id", "i", "x", "y"])


def x_axis(r, c, vals, expr, title, fmt=None):
    x0, x1 = COLS[c]
    y0, y1 = ROWS[r]
    kw = dict(AXIS_STYLE)
    if fmt:
        kw["format"] = fmt
    return alt.Axis(orient="bottom", offset=y1 - H, values=vals, labelExpr=expr, title=title,
                    titleX=(x0 + x1) / 2, titleY=62, titleAlign="center", titleBaseline="middle",
                    titleAngle=0, labelAngle=0, labelAlign="center", labelBaseline="top",
                    labelPadding=9, **kw)


def y_axis(r, c, vals, expr, title, fmt=None):
    x0, x1 = COLS[c]
    y0, y1 = ROWS[r]
    kw = dict(AXIS_STYLE)
    if fmt:
        kw["format"] = fmt
    return alt.Axis(orient="left", offset=-x0, values=vals, labelExpr=expr, title=title,
                    titleX=-66, titleY=(y0 + y1) / 2, titleAlign="center", titleBaseline="middle",
                    titleAngle=270, labelAngle=270, labelAlign="center", labelBaseline="bottom",
                    labelPadding=10, **kw)


def frame(r, c):
    x0, x1 = COLS[c]
    y0, y1 = ROWS[r]
    return alt.Chart(DUMMY).mark_rect(fill="white", fillOpacity=0, stroke=FRAME, strokeWidth=2).encode(
        x=alt.value(x0), x2=alt.value(x1), y=alt.value(y0), y2=alt.value(y1))


def panel(r, c, xdom, ydom, xax, yax, series):
    x0, x1 = COLS[c]
    y0, y1 = ROWS[r]
    out = []
    for n, s in enumerate(series):
        xs = alt.Scale(domain=xdom, range=[x0, x1], nice=False, zero=False)
        ys = alt.Scale(domain=ydom, range=[y1, y0], nice=False, zero=False)
        enc = dict(x=alt.X("x:Q", scale=xs, axis=xax if n == 0 else None),
                   y=alt.Y("y:Q", scale=ys, axis=yax if n == 0 else None))
        if s["kind"] == "line":
            mk = alt.Chart(s["df"]).mark_line(color=s["color"], strokeWidth=s["width"],
                                              interpolate=s.get("interp", "linear"))
            enc["order"] = alt.Order("i:Q")
            enc["detail"] = alt.Detail("id:N")
        else:
            mk = alt.Chart(s["df"]).mark_point(filled=False, color=s["color"], size=34,
                                               strokeWidth=1.3, opacity=1)
        out.append(mk.encode(**enc))
    out.append(frame(r, c))
    return out


def rect(x0, x1, y0, y1, fill):
    return alt.Chart(DUMMY).mark_rect(fill=fill).encode(
        x=alt.value(x0), x2=alt.value(x1), y=alt.value(y0), y2=alt.value(y1))


def label(text, x, y, size, color="black", angle=0, align="center", style="normal"):
    return alt.Chart(DUMMY).mark_text(text=text, font=FONT, fontSize=size, color=color, angle=angle,
                                      align=align, baseline="middle", fontStyle=style).encode(
        x=alt.value(x), y=alt.value(y))


layers = []
# header strips
layers += [rect(207, 795, 0, 79, STRIP), rect(802, 1359, 0, 79, STRIP), rect(1378, 1928, 0, 79, STRIP)]
layers += [label("Trajectory of mid-piece", 503, 37, 47), label("Waveform", 1081, 37, 47),
           label("Curvature", 1656, 37, 47)]
# species strips
layers += [rect(0, 79, 102, 1113, STRIP), rect(0, 79, 1154, 2198, STRIP)]
layers += [label("Paramacrobiotus", 38, 472, 48, angle=270, align="right", style="italic"),
           label("sp.", 38, 461, 48, angle=270, align="left"),
           label("Macrobiotus shonaicus", 38, 1666, 48, angle=270, style="italic")]
# row strips
ROW_STRIPS = [(102, 593), (621, 1113), (1154, 1648), (1684, 2175)]
ROW_TEXT = [("Straight", GREEN), ("Turn", PURPLE), ("Straight", GREEN), ("Turn", PURPLE)]
for (a, b), (t, col) in zip(ROW_STRIPS, ROW_TEXT):
    layers.append(rect(105, 189, a, b, STRIP))
    layers.append(label(t, 147, (a + b) / 2, 48, color=col, angle=270))

TRAJ = [
    (TRAJ1_GRAY_BEFORE, TRAJ1_TRACK, TRAJ1_GRAY_AFTER, GREEN),
    (TRAJ2_GRAY_BEFORE, TRAJ2_TRACK, TRAJ2_GRAY_AFTER, PURPLE),
    (TRAJ3_GRAY_BEFORE, TRAJ3_TRACK, TRAJ3_GRAY_AFTER, GREEN),
    (TRAJ4_GRAY_BEFORE, TRAJ4_TRACK, TRAJ4_GRAY_AFTER, PURPLE),
]
WAVES = [(WAVE1_HEAD, WAVE1_TAIL), (WAVE2_HEAD, WAVE2_TAIL), (WAVE3_HEAD, WAVE3_TAIL), (WAVE4_HEAD, WAVE4_TAIL)]
CURVS = [
    (CURV1_HEAD_X, CURV1_HEAD, CURV1_TAIL_X, CURV1_TAIL),
    (CURV2_HEAD_X, CURV2_HEAD, CURV2_TAIL_X, CURV2_TAIL),
    (CURV34_X, CURV3_HEAD, CURV34_X, CURV3_TAIL),
    (CURV34_X, CURV4_HEAD, CURV34_X, CURV4_TAIL),
]
MOVE = "Moving distance (\u00b5m)"
BASE = "Distance from the base (\u00b5m)"

for r in range(4):
    # trajectory
    before, track, after, col = TRAJ[r]
    layers += panel(r, 0, TRAJ_DOM, TRAJ_DOM,
                    x_axis(r, 0, TRAJ_TICKS, TRAJ_EXPR, MOVE),
                    y_axis(r, 0, TRAJ_TICKS, TRAJ_EXPR, MOVE),
                    [dict(kind="line", df=path_df(before), color=GRAY, width=1.8),
                     dict(kind="line", df=path_df(after), color=GRAY, width=1.8),
                     dict(kind="line", df=path_df(track), color=col, width=1.6),
                     dict(kind="point", df=path_df(track), color=col)])
    # waveform
    head, tail = WAVES[r]
    hs = dict(kind="line", df=curves_df(head), color=BLUE, width=1.3, interp="catmull-rom")
    ts = dict(kind="line", df=curves_df(tail), color=ORANGE, width=1.3, interp="catmull-rom")
    if r < 2:
        wx, wy = WAVE12_XDOM, WAVE12_YDOM
        xa = x_axis(r, 1, WAVE12_XT, MINUS, BASE)
        ya = y_axis(r, 1, WAVE12_YT, MINUS, BASE)
        ser = [hs, ts]
    else:
        wx, wy = WAVE34_XDOM, WAVE34_YDOM
        xa = x_axis(r, 1, WAVE34_XT, W34X_EXPR, BASE)
        ya = y_axis(r, 1, WAVE34_YT, MINUS, BASE)
        ser = [ts, hs]
    layers += panel(r, 1, wx, wy, xa, ya, ser)
    # curvature
    hx, hy, tx, ty = CURVS[r]
    hs = dict(kind="line", df=sampled_df(hx, hy), color=BLUE, width=1.2)
    ts = dict(kind="line", df=sampled_df(tx, ty), color=ORANGE, width=1.2)
    ctitle = "Curvature (\u00b5m\u207b\u00b9)" if r < 3 else "Curvature (\u00b5m-1)"
    if r < 2:
        cx, cxt, ser = CURV12_XDOM, CURV12_XT, [hs, ts]
    else:
        cx, cxt, ser = CURV34_XDOM, CURV34_XT, [ts, hs]
    layers += panel(r, 2, cx, CURV_YDOM,
                    x_axis(r, 2, cxt, MINUS, BASE),
                    y_axis(r, 2, CURV_YT, MINUS, ctitle, fmt=".1f"), ser)

# Head / Tail key in the first waveform panel
layers += [label("Head", 1311, 443, 35, color=BLUE, align="right"),
           label("Tail", 1311, 489, 35, color=ORANGE, align="right")]

chart = alt.layer(*layers).resolve_scale(x="independent", y="independent").properties(
    width=W, height=H, padding=0, background="white",
    autosize=alt.AutoSizeParams(type="none")
).configure_view(stroke=None)

chart.save("out.html", embed_options={"renderer": "svg", "actions": False})
